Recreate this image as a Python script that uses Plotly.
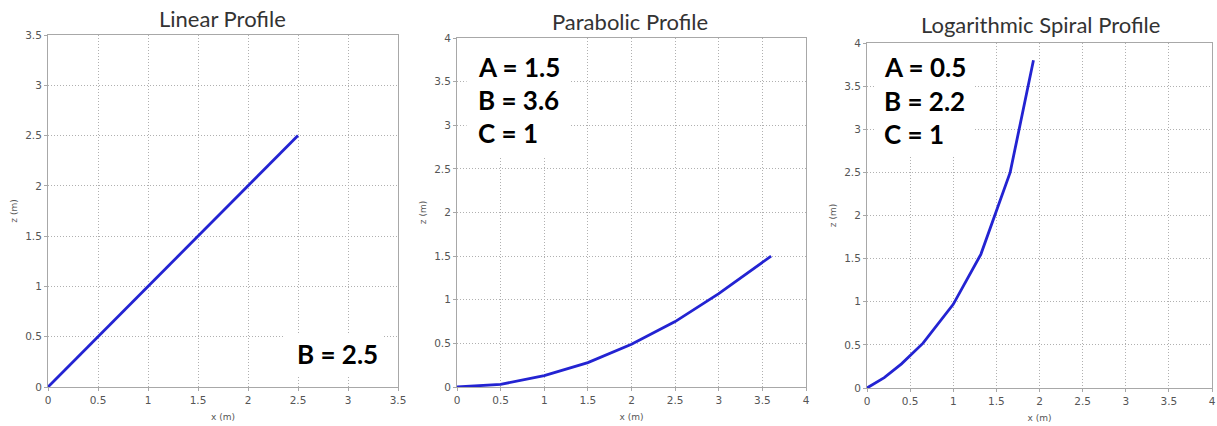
import plotly.graph_objects as go

# profile curves
linear_x = [0, 2.5]
linear_z = [0, 2.5]

parabolic_x = [0, 0.5, 1.0, 1.5, 2.0, 2.5, 3.0, 3.6]
parabolic_z = [0, 0.03, 0.13, 0.28, 0.49, 0.75, 1.07, 1.5]

spiral_x = [0, 0.2, 0.4, 0.65, 1.0, 1.32, 1.66, 1.93]
spiral_z = [0, 0.12, 0.28, 0.52, 0.97, 1.55, 2.5, 3.8]

titles = ["Linear Profile", "Parabolic Profile", "Logarithmic Spiral Profile"]
param_text = [["B = 2.5"], ["A = 1.5", "B = 3.6", "C = 1"], ["A = 0.5", "B = 2.2", "C = 1"]]
axis_max = [3.5, 4, 4]

LINE_COLOR = "#2323d2"
TICK_FONT = dict(family="DejaVu Sans", size=10.5, color="#555555")
LABEL_FONT = dict(family="DejaVu Sans", size=9, color="#555555")
TITLE_FONT = dict(family="Lato", size=22, color="#333333")
PARAM_FONT = dict(family="Lato", size=26, color="#000000", weight="bold")

W, H = 1217, 426
# panel boxes in pixels: left, right, top, bottom
panels = [(48, 398, 35, 387), (457, 806, 38, 387), (867, 1212, 43, 388)]
title_centers = [(223, 19), (630, 21), (1040, 25)]


def px_x(p):
    return p / W


def px_y(p):
    return (H - p) / H


fig = go.Figure()

curves = [(linear_x, linear_z), (parabolic_x, parabolic_z), (spiral_x, spiral_z)]
for i, (xs, zs) in enumerate(curves):
    suffix = "" if i == 0 else str(i + 1)
    fig.add_trace(
        go.Scatter(
            x=xs,
            y=zs,
            mode="lines",
            line=dict(color=LINE_COLOR, width=2.8),
            xaxis="x" + suffix,
            yaxis="y" + suffix,
            showlegend=False,
            hoverinfo="skip",
        )
    )

layout = dict(
    width=W,
    height=H,
    margin=dict(l=0, r=0, t=0, b=0),
    paper_bgcolor="white",
    plot_bgcolor="white",
    showlegend=False,
)

axis_common = dict(
    showgrid=True,
    gridcolor="#b0b0b0",
    griddash="1px,2px",
    gridwidth=1,
    showline=True,
    linecolor="#a8a8a8",
    linewidth=1,
    mirror=True,
    ticks="outside",
    ticklen=3,
    tickcolor="#a8a8a8",
    tickfont=TICK_FONT,
    zeroline=False,
    dtick=0.5,
    automargin=False,
    fixedrange=True,
)

annotations = []
shapes = []

# white boxes behind the parameter text (data coords per panel)
boxes = [(2.35, 3.35, 0.12, 0.52), (0.11, 1.30, 2.64, 4.0), (0.09, 1.25, 2.68, 4.0)]
# text anchor positions (data coords): x, first-line y, line step
text_pos = [(2.47, 0.33, 0.0), (0.22, 3.67, 0.38), (0.17, 3.72, 0.39)]

for i, (l, r, t, b) in enumerate(panels):
    suffix = "" if i == 0 else str(i + 1)
    layout["xaxis" + suffix] = dict(
        axis_common,
        domain=[px_x(l), px_x(r)],
        range=[0, axis_max[i]],
        anchor="y" + suffix,
        title=dict(text="x (m)", font=LABEL_FONT, standoff=9),
    )
    layout["yaxis" + suffix] = dict(
        axis_common,
        domain=[px_y(b), px_y(t)],
        range=[0, axis_max[i]],
        anchor="x" + suffix,
        title=dict(text="z (m)", font=LABEL_FONT, standoff=6),
    )

    cx, cy = title_centers[i]
    annotations.append(
        dict(
            text=titles[i],
            x=px_x(cx),
            y=px_y(cy),
            xref="paper",
            yref="paper",
            xanchor="center",
            yanchor="middle",
            showarrow=False,
            font=TITLE_FONT,
        )
    )

    bx0, bx1, by0, by1 = boxes[i]
    shapes.append(
        dict(
            type="rect",
            xref="x" + suffix,
            yref="y" + suffix,
            x0=bx0,
            x1=bx1,
            y0=by0,
            y1=by1,
            fillcolor="white",
            line=dict(width=0),
            layer="between",
        )
    )

    tx, ty, step = text_pos[i]
    for j, line in enumerate(param_text[i]):
        annotations.append(
            dict(
                text=line,
                x=tx,
                y=ty - j * step,
                xref="x" + suffix,
                yref="y" + suffix,
                xanchor="left",
                yanchor="middle",
                showarrow=False,
                font=PARAM_FONT,
            )
        )

layout["annotations"] = annotations
layout["shapes"] = shapes
fig.update_layout(**layout)

# drop the default page margin so the figure sits at the window corner
fig.write_html(
    "out.html",
    config={"displayModeBar": False},
    post_script="document.body.style.margin = '0';",
)
